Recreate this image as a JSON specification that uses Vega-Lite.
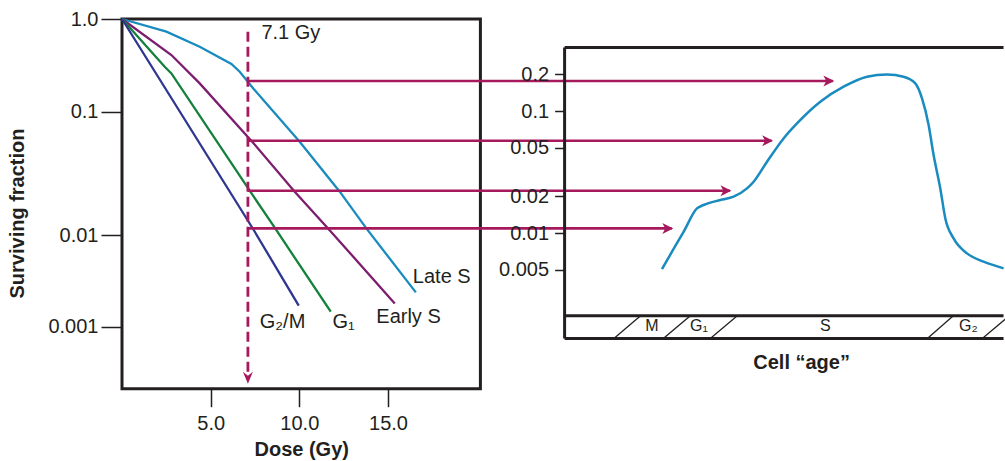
{
  "$schema": "https://vega.github.io/schema/vega-lite/v6.json",
  "background": "white",
  "padding": {"left": 6, "top": 7, "right": 0, "bottom": 0},
  "spacing": 83.6,
  "bounds": "flush",
  "config": {
    "font": "Liberation Sans",
    "view": {"stroke": null},
    "axis": {
      "labelColor": "#231f20",
      "titleColor": "#231f20",
      "tickColor": "#231f20",
      "tickWidth": 1.5,
      "grid": false,
      "labelFontSize": 20,
      "titleFontSize": 20,
      "titleFontWeight": "bold"
    },
    "text": {"color": "#231f20"}
  },
  "datasets": {
    "survival": [
      {"phase": "Late S", "dose": 0, "sf": 1},
      {"phase": "Late S", "dose": 2.504, "sf": 0.7295},
      {"phase": "Late S", "dose": 4.382, "sf": 0.5027},
      {"phase": "Late S", "dose": 6.17, "sf": 0.327},
      {"phase": "Late S", "dose": 6.638, "sf": 0.2701},
      {"phase": "Late S", "dose": 7.428, "sf": 0.1758},
      {"phase": "Late S", "dose": 10.02, "sf": 0.0571},
      {"phase": "Late S", "dose": 12.28, "sf": 0.02245},
      {"phase": "Late S", "dose": 13.78, "sf": 0.01131},
      {"phase": "Late S", "dose": 16.57, "sf": 0.002366},
      {"phase": "Early S", "dose": 0, "sf": 1},
      {"phase": "Early S", "dose": 2.786, "sf": 0.4089},
      {"phase": "Early S", "dose": 4.382, "sf": 0.202},
      {"phase": "Early S", "dose": 7.428, "sf": 0.05532},
      {"phase": "Early S", "dose": 9.74, "sf": 0.02245},
      {"phase": "Early S", "dose": 11.62, "sf": 0.01131},
      {"phase": "Early S", "dose": 15.38, "sf": 0.001795},
      {"phase": "G1", "dose": 0, "sf": 1},
      {"phase": "G1", "dose": 2.408, "sf": 0.3057},
      {"phase": "G1", "dose": 2.786, "sf": 0.2589},
      {"phase": "G1", "dose": 7.428, "sf": 0.02045},
      {"phase": "G1", "dose": 8.613, "sf": 0.01146},
      {"phase": "G1", "dose": 11.77, "sf": 0.001458},
      {"phase": "G2/M", "dose": 0, "sf": 1},
      {"phase": "G2/M", "dose": 7.428, "sf": 0.01098},
      {"phase": "G2/M", "dose": 9.966, "sf": 0.001694}
    ],
    "curveLabels": [
      {"text": "7.1 Gy", "dose": 7.86, "sf": 0.6993},
      {"text": "Late S", "dose": 16.4, "sf": 0.003511},
      {"text": "Early S", "dose": 14.34, "sf": 0.001285},
      {"text": "G₁", "dose": 11.87, "sf": 0.001133},
      {"text": "G₂/M", "dose": 7.77, "sf": 0.001133}
    ],
    "arrows": [
      {"phase": "Late S", "dose": 7.1, "sf": 0.2144, "tip": 40.08},
      {"phase": "Early S", "dose": 7.1, "sf": 0.0582, "tip": 36.63},
      {"phase": "G1", "dose": 7.1, "sf": 0.02287, "tip": 34.28},
      {"phase": "G2/M", "dose": 7.1, "sf": 0.01131, "tip": 31.0}
    ],
    "ageResponse": [
      {"age": 22.1, "sf": 0.00508},
      {"age": 24.37, "sf": 0.00704},
      {"age": 27.0, "sf": 0.01026},
      {"age": 30.04, "sf": 0.01593},
      {"age": 31.54, "sf": 0.017},
      {"age": 35.33, "sf": 0.01868},
      {"age": 38.35, "sf": 0.01988},
      {"age": 41.39, "sf": 0.02325},
      {"age": 42.89, "sf": 0.02638},
      {"age": 45.93, "sf": 0.03849},
      {"age": 49.69, "sf": 0.05974},
      {"age": 52.73, "sf": 0.0793},
      {"age": 58.02, "sf": 0.1194},
      {"age": 63.31, "sf": 0.1585},
      {"age": 68.62, "sf": 0.1914},
      {"age": 73.16, "sf": 0.2},
      {"age": 76.92, "sf": 0.1914},
      {"age": 79.58, "sf": 0.1687},
      {"age": 81.1, "sf": 0.1271},
      {"age": 82.6, "sf": 0.0769},
      {"age": 83.73, "sf": 0.04365},
      {"age": 85.25, "sf": 0.02325},
      {"age": 86.39, "sf": 0.0132},
      {"age": 88.27, "sf": 0.00905},
      {"age": 91.31, "sf": 0.00682},
      {"age": 95.08, "sf": 0.00583},
      {"age": 99.61, "sf": 0.00514}
    ],
    "phaseBoundaries": [
      {"from": 11.18, "to": 17.24},
      {"from": 22.4, "to": 28.53},
      {"from": 33.06, "to": 39.19},
      {"from": 82.31, "to": 88.21},
      {"from": 94.78, "to": 100.9}
    ],
    "phaseNames": [
      {"phase": "M", "age": 19.83},
      {"phase": "G₁", "age": 30.5},
      {"phase": "S", "age": 59.15},
      {"phase": "G₂", "age": 91.6}
    ]
  },
  "hconcat": [
    {
      "width": 358.4,
      "height": 369.7,
      "view": {"stroke": "#231f20", "strokeWidth": 3},
      "layer": [
        {
          "data": {"name": "survival"},
          "mark": {"type": "line", "strokeWidth": 2.3},
          "encoding": {
            "x": {
              "field": "dose",
              "type": "quantitative",
              "scale": {"domain": [0, 20.21], "nice": false, "zero": false},
              "axis": {
                "values": [5, 10, 15],
                "format": ".1f",
                "title": "Dose (Gy)",
                "domain": false,
                "tickSize": 18,
                "labelPadding": 7,
                "titlePadding": 6
              }
            },
            "y": {
              "field": "sf",
              "type": "quantitative",
              "scale": {
                "type": "log",
                "domain": [0.000211, 0.001, 0.01, 0.1, 1],
                "range": [369.7, 307.7, 216, 92.7, 0],
                "nice": false
              },
              "axis": {
                "values": [0.001, 0.01, 0.1, 1],
                "labelExpr": "datum.value >= 1 ? '1.0' : format(datum.value, '~g')",
                "title": "Surviving fraction",
                "domain": false,
                "tickSize": 21,
                "labelPadding": 3,
                "titlePadding": 20,
                "titleY": 194
              }
            },
            "color": {
              "field": "phase",
              "type": "nominal",
              "scale": {
                "domain": ["Late S", "Early S", "G1", "G2/M"],
                "range": ["#1a8bbf", "#7d1d6f", "#14803c", "#2e3690"]
              },
              "legend": null
            }
          }
        },
        {
          "data": {"values": [{}]},
          "mark": {"type": "rule", "color": "#a6195c", "strokeWidth": 2.8, "strokeDash": [10, 5]},
          "encoding": {
            "x": {"datum": 7.1, "type": "quantitative"},
            "y": {"datum": 0.7295, "type": "quantitative"},
            "y2": {"datum": 0.0003073}
          }
        },
        {
          "data": {"values": [{}]},
          "mark": {"type": "point", "shape": "M0,0L-1,-2.4L0,-1.6L1,-2.4Z", "size": 100, "filled": true, "color": "#a6195c", "opacity": 1},
          "encoding": {
            "x": {"datum": 7.1, "type": "quantitative"},
            "y": {"datum": 0.000239, "type": "quantitative"}
          }
        },
        {
          "data": {"name": "arrows"},
          "mark": {"type": "rule", "color": "#a6195c", "strokeWidth": 2.6, "clip": false},
          "encoding": {
            "x": {"field": "dose", "type": "quantitative"},
            "x2": {"field": "tip"},
            "y": {"field": "sf", "type": "quantitative"}
          }
        },
        {
          "data": {"name": "arrows"},
          "mark": {"type": "point", "shape": "M0,0L-2,-1L-1.45,0L-2,1Z", "size": 120, "filled": true, "color": "#a6195c", "opacity": 1, "clip": false, "xOffset": 1.5},
          "encoding": {
            "x": {"field": "tip", "type": "quantitative"},
            "y": {"field": "sf", "type": "quantitative"}
          }
        },
        {
          "data": {"name": "curveLabels"},
          "mark": {"type": "text", "align": "left", "baseline": "middle", "fontSize": 20},
          "encoding": {
            "x": {"field": "dose", "type": "quantitative"},
            "y": {"field": "sf", "type": "quantitative"},
            "text": {"field": "text"}
          }
        }
      ]
    },
    {
      "width": 440.7,
      "height": 319.4,
      "layer": [
        {
          "data": {"name": "ageResponse"},
          "mark": {"type": "line", "color": "#1a8bbf", "strokeWidth": 2.5, "interpolate": "monotone"},
          "encoding": {
            "x": {
              "field": "age",
              "type": "quantitative",
              "scale": {"domain": [0, 100], "nice": false, "zero": false},
              "axis": {
                "title": "Cell “age”",
                "labels": false,
                "ticks": false,
                "domain": false,
                "titlePadding": 14,
                "titleX": 236.5
              }
            },
            "y": {
              "field": "sf",
              "type": "quantitative",
              "scale": {"type": "log", "domain": [0.001371, 0.569], "nice": false},
              "axis": {
                "values": [0.005, 0.01, 0.02, 0.05, 0.1, 0.2],
                "format": "~g",
                "title": null,
                "domain": false,
                "tickSize": 10,
                "labelPadding": 6
              }
            }
          }
        },
        {
          "data": {"values": [{}]},
          "mark": {"type": "rule", "color": "#231f20", "strokeWidth": 3},
          "encoding": {
            "x": {"datum": 0, "type": "quantitative"},
            "x2": {"datum": 99.6},
            "y": {"datum": 0.3327, "type": "quantitative"}
          }
        },
        {
          "data": {"values": [{}]},
          "mark": {"type": "rule", "color": "#231f20", "strokeWidth": 3},
          "encoding": {
            "x": {"datum": 0, "type": "quantitative"},
            "y": {"datum": 0.3327, "type": "quantitative"},
            "y2": {"datum": 0.001371}
          }
        },
        {
          "data": {"values": [{}]},
          "mark": {"type": "rule", "color": "#231f20", "strokeWidth": 3},
          "encoding": {
            "x": {"datum": 0, "type": "quantitative"},
            "x2": {"datum": 99.6},
            "y": {"datum": 0.002104, "type": "quantitative"}
          }
        },
        {
          "data": {"values": [{}]},
          "mark": {"type": "rule", "color": "#231f20", "strokeWidth": 3},
          "encoding": {
            "x": {"datum": 0, "type": "quantitative"},
            "x2": {"datum": 99.6},
            "y": {"datum": 0.001371, "type": "quantitative"}
          }
        },
        {
          "data": {"name": "phaseBoundaries"},
          "mark": {"type": "rule", "color": "#231f20", "strokeWidth": 1.3, "clip": true},
          "encoding": {
            "x": {"field": "from", "type": "quantitative"},
            "x2": {"field": "to"},
            "y": {"datum": 0.001371, "type": "quantitative"},
            "y2": {"datum": 0.002104}
          }
        },
        {
          "data": {"name": "phaseNames"},
          "mark": {"type": "text", "align": "center", "baseline": "middle", "fontSize": 16},
          "encoding": {
            "x": {"field": "age", "type": "quantitative"},
            "y": {"datum": 0.00172, "type": "quantitative"},
            "text": {"field": "phase"}
          }
        }
      ]
    }
  ]
}
